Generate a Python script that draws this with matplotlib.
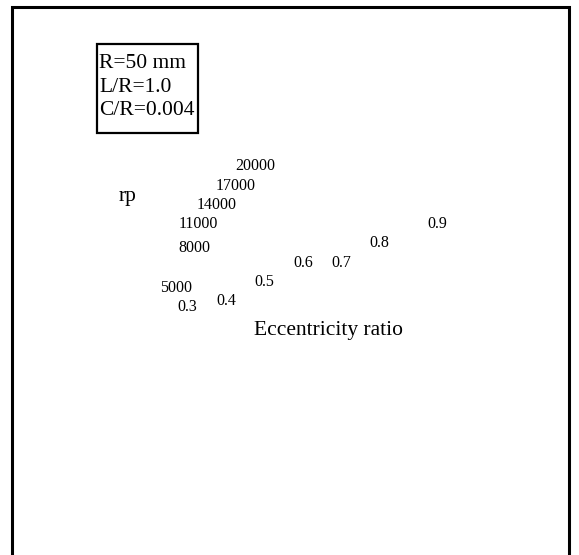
import matplotlib
matplotlib.use("Agg")
import matplotlib.pyplot as plt
from matplotlib.patches import Rectangle

plt.rcParams["font.family"] = ["Liberation Serif", "DejaVu Serif"]

# Bearing parameters shown in the inset box
params = ["R=50 mm", "L/R=1.0", "C/R=0.004"]

# Axis tick values
rp_ticks = [5000, 8000, 11000, 14000, 17000, 20000]
ecc_ticks = [0.3, 0.4, 0.5, 0.6, 0.7, 0.8, 0.9]

rp_label = "rp"
ecc_label = "Eccentricity ratio"

# Label anchor positions on the page (pixel layout, y downward)
rp_pos = [(176, 288), (194, 248), (198, 224), (217, 205), (236, 186), (255, 166)]
ecc_pos = [(187, 307), (226, 301), (264, 282), (303, 263), (341, 263), (379, 243), (437, 224)]

W, H = 579, 555
fig = plt.figure(figsize=(W / 100, H / 100), dpi=100)
ax = fig.add_axes([0, 0, 1, 1])
ax.set_xlim(0, W)
ax.set_ylim(H, 0)
ax.axis("off")

# Open frame: left, top and right edges
ax.plot([12, 12, 569, 569], [H + 5, 7, 7, H + 5], color="black", lw=2.2,
        solid_joinstyle="miter", clip_on=False)

# Parameter box
ax.add_patch(Rectangle((97, 44), 101, 89, fill=False, ec="black", lw=1.6))
ax.text(99, 87, "\n".join(params), fontsize=15.5, ha="left", va="center",
        linespacing=1.33)

small = 11.5
for v, (x, y) in zip(rp_ticks, rp_pos):
    ax.text(x, y, f"{v}", fontsize=small, ha="center", va="center")
for v, (x, y) in zip(ecc_ticks, ecc_pos):
    ax.text(x, y, f"{v:.1f}", fontsize=small, ha="center", va="center")

ax.text(128, 196, rp_label, fontsize=15.5, ha="center", va="center")
ax.text(329, 330, ecc_label, fontsize=15.5, ha="center", va="center")

fig.savefig("out.png", dpi=100)
